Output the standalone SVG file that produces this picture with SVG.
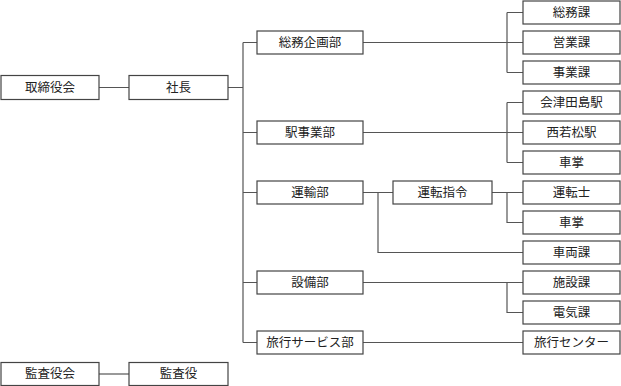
<svg xmlns="http://www.w3.org/2000/svg" width="621" height="386" viewBox="0 0 621 386">
<style>
.b{fill:#fff;stroke:#444;stroke-width:1.2}
.l{fill:none;stroke:#555;stroke-width:1.2}
text{font-family:"Liberation Serif","Noto Sans CJK JP",serif;font-size:12.5px;fill:#222;text-anchor:middle;dominant-baseline:central}
</style>
<rect width="621" height="386" fill="#fff"/>
<g id="connectors">
<path class="l" d="M99,87.5H129 M228,87.5H243 M243,42.5V342.5 M243,42.5H257 M243,132.5H257 M243,192.5H257 M243,282.5H257 M243,342.5H257"/>
<path class="l" d="M363,42.5H523 M507,12.5V72.5 M507,12.5H523 M507,72.5H523"/>
<path class="l" d="M363,132.5H523 M507,102.5V162.5 M507,102.5H523 M507,162.5H523"/>
<path class="l" d="M363,192.5H393 M378,192.5V252.5H523 M492,192.5H523 M507,192.5V222.5H523"/>
<path class="l" d="M363,282.5H523 M507,282.5V312.5H523"/>
<path class="l" d="M363,342.5H523"/>
<path class="l" d="M99,374H129"/>
</g>
<g id="n-torishimariyakukai"><rect class="b" x="1" y="75.5" width="98" height="24"/><text x="50" y="87.5">取締役会</text></g>
<g id="n-shacho"><rect class="b" x="129" y="75.5" width="99" height="24"/><text x="178.5" y="87.5">社長</text></g>
<g id="n-kansayakukai"><rect class="b" x="1" y="362.5" width="98" height="23"/><text x="50" y="374">監査役会</text></g>
<g id="n-kansayaku"><rect class="b" x="129" y="362.5" width="99" height="23"/><text x="178.5" y="374">監査役</text></g>
<g id="n-somukikaku"><rect class="b" x="257" y="31" width="106" height="23"/><text x="310" y="42.5">総務企画部</text></g>
<g id="n-ekijigyo"><rect class="b" x="257" y="121" width="106" height="23"/><text x="310" y="132.5">駅事業部</text></g>
<g id="n-unyu"><rect class="b" x="257" y="181" width="106" height="23"/><text x="310" y="192.5">運輸部</text></g>
<g id="n-untenshirei"><rect class="b" x="393" y="181" width="99" height="23"/><text x="442.5" y="192.5">運転指令</text></g>
<g id="n-setsubi"><rect class="b" x="257" y="271" width="106" height="23"/><text x="310" y="282.5">設備部</text></g>
<g id="n-ryokoservice"><rect class="b" x="257" y="331" width="106" height="23"/><text x="310" y="342.5">旅行サービス部</text></g>
<g id="n-somuka"><rect class="b" x="523" y="1" width="97" height="23"/><text x="571.5" y="12.5">総務課</text></g>
<g id="n-eigyoka"><rect class="b" x="523" y="31" width="97" height="23"/><text x="571.5" y="42.5">営業課</text></g>
<g id="n-jigyoka"><rect class="b" x="523" y="61" width="97" height="23"/><text x="571.5" y="72.5">事業課</text></g>
<g id="n-aizutajima"><rect class="b" x="523" y="91" width="97" height="23"/><text x="571.5" y="102.5">会津田島駅</text></g>
<g id="n-nishiwakamatsu"><rect class="b" x="523" y="121" width="97" height="23"/><text x="571.5" y="132.5">西若松駅</text></g>
<g id="n-shasho1"><rect class="b" x="523" y="151" width="97" height="23"/><text x="571.5" y="162.5">車掌</text></g>
<g id="n-untenshi"><rect class="b" x="523" y="181" width="97" height="23"/><text x="571.5" y="192.5">運転士</text></g>
<g id="n-shasho2"><rect class="b" x="523" y="211" width="97" height="23"/><text x="571.5" y="222.5">車掌</text></g>
<g id="n-sharyoka"><rect class="b" x="523" y="241" width="97" height="23"/><text x="571.5" y="252.5">車両課</text></g>
<g id="n-shisetsuka"><rect class="b" x="523" y="271" width="97" height="23"/><text x="571.5" y="282.5">施設課</text></g>
<g id="n-denkika"><rect class="b" x="523" y="301" width="97" height="23"/><text x="571.5" y="312.5">電気課</text></g>
<g id="n-ryokocenter"><rect class="b" x="523" y="331" width="97" height="23"/><text x="571.5" y="342.5">旅行センター</text></g>
</svg>
